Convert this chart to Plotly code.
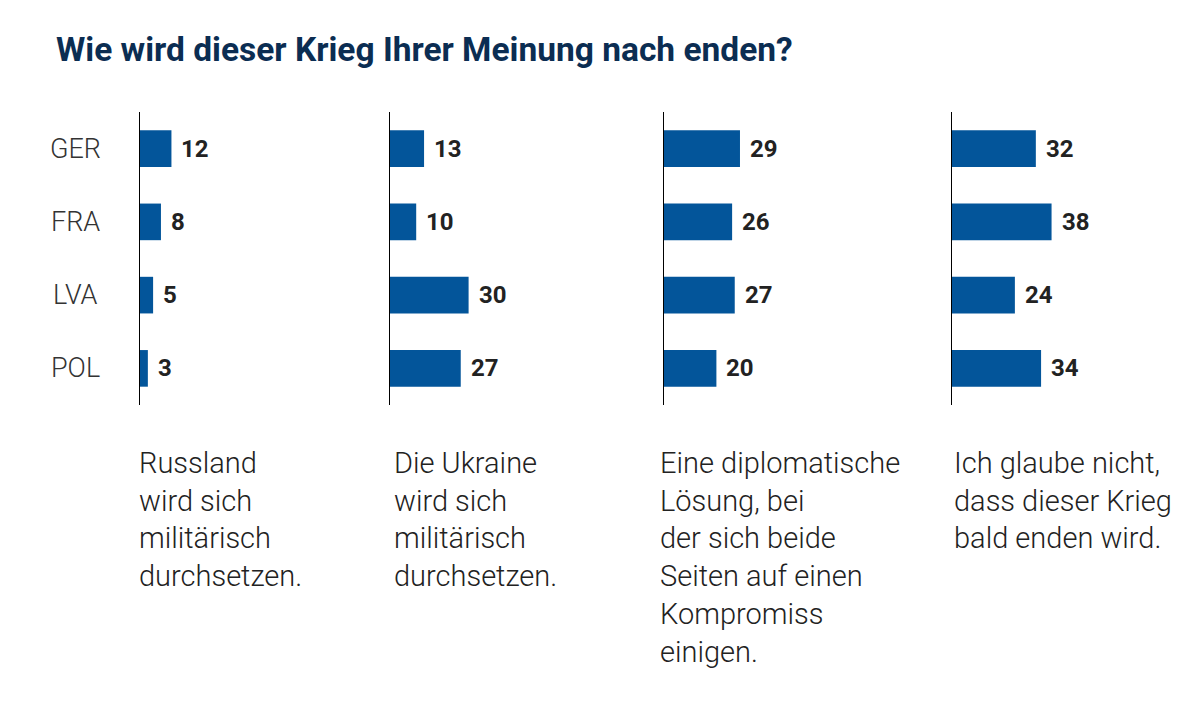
import plotly.graph_objects as go

# Survey data (percent)
countries = ["GER", "FRA", "LVA", "POL"]
russia_wins = [12, 8, 5, 3]
ukraine_wins = [13, 10, 30, 27]
diplomatic = [29, 26, 27, 20]
no_end_soon = [32, 38, 24, 34]

captions = [
    "Russland<br>wird sich<br>militärisch<br>durchsetzen.",
    "Die Ukraine<br>wird sich<br>militärisch<br>durchsetzen.",
    "Eine diplomatische<br>Lösung, bei<br>der sich beide<br>Seiten auf einen<br>Kompromiss<br>einigen.",
    "Ich glaube nicht,<br>dass dieser Krieg<br>bald enden wird.",
]
title = "Wie wird dieser Krieg Ihrer Meinung nach enden?"

series = [russia_wins, ukraine_wins, diplomatic, no_end_soon]

# the page body has an 8px margin, so the figure is a bit smaller
OFF = 8
W, H = 1200 - OFF, 707 - OFF


def px(x):
    return (x - OFF) / W


def py(y):
    return 1 - (y - OFF) / H


BAR_COLOR = "#03559a"
TEXT_DARK = "#222222"
PX_PER_UNIT = 2.62
PANEL_W = 220
panel_left = [140, 390, 664, 952]   # window x of each panel's axis line
caption_left = [140, 395, 661, 955]  # window x where each caption starts
y_top, y_bottom = 112, 405

fig = go.Figure()
annotations = []

for i, values in enumerate(series):
    n = "" if i == 0 else str(i + 1)
    fig.add_trace(
        go.Bar(
            x=values,
            y=countries,
            orientation="h",
            marker=dict(color=BAR_COLOR, line=dict(width=0)),
            xaxis="x" + n,
            yaxis="y" + n,
            hoverinfo="x+y",
            showlegend=False,
        )
    )
    left = px(panel_left[i])
    fig.layout["xaxis" + n] = dict(
        domain=[left, left + PANEL_W / W],
        range=[0, PANEL_W / PX_PER_UNIT],
        visible=False,
        fixedrange=True,
    )
    fig.layout["yaxis" + n] = dict(
        domain=[py(y_bottom), py(y_top)],
        anchor="x" + n,
        autorange="reversed",
        showline=True,
        linecolor="#000000",
        linewidth=1.2,
        showgrid=False,
        zeroline=False,
        showticklabels=False,
        ticks="",
        fixedrange=True,
    )

    # value labels next to bars
    for c, v in zip(countries, values):
        annotations.append(
            dict(
                x=v, y=c, xref="x" + n, yref="y" + n,
                text=str(v), showarrow=False,
                xanchor="left", yanchor="middle", xshift=8,
                font=dict(family="Roboto", size=24, color=TEXT_DARK, weight=700),
            )
        )

    # caption under each panel
    annotations.append(
        dict(
            x=px(caption_left[i] - 3), y=py(444), xref="paper", yref="paper",
            text=captions[i], showarrow=False,
            xanchor="left", yanchor="top", align="left",
            font=dict(family="Roboto", size=29, color=TEXT_DARK, weight=300),
        )
    )

# country labels on the left
for c in countries:
    annotations.append(
        dict(
            x=px(75), y=c, xref="paper", yref="y",
            text=c, showarrow=False,
            xanchor="center", yanchor="middle",
            font=dict(family="Roboto", size=27, color="#333333", weight=300),
        )
    )

# title
annotations.append(
    dict(
        x=px(54), y=py(50), xref="paper", yref="paper",
        text=title, showarrow=False,
        xanchor="left", yanchor="middle",
        font=dict(family="Roboto", size=33.5, color="#0b2d52", weight=700),
    )
)

fig.update_layout(
    width=W,
    height=H,
    margin=dict(l=0, r=0, t=0, b=0),
    paper_bgcolor="white",
    plot_bgcolor="white",
    bargap=0.5,
    annotations=annotations,
)

fig.write_html("out.html", config={"displayModeBar": False})
